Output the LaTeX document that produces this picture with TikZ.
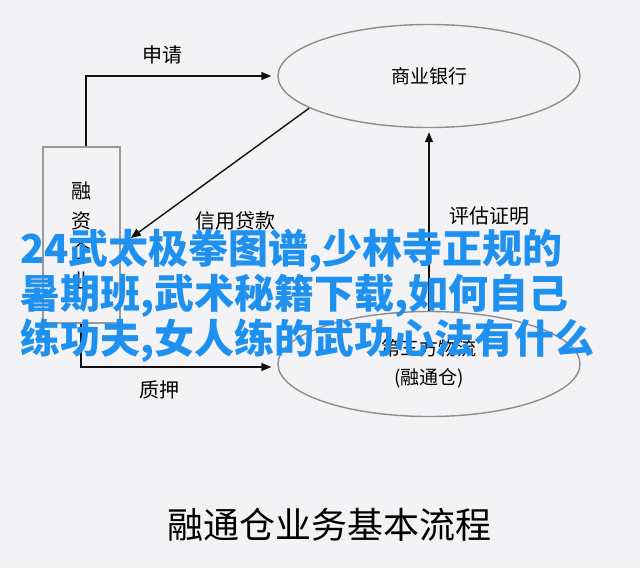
\documentclass[tikz,border=0pt]{standalone}
\usepackage{fontspec}
\newfontfamily\cjk{Noto Sans CJK SC}
\usetikzlibrary{shapes.geometric, arrows.meta, positioning}
\definecolor{bgColor}{HTML}{F3F2F5}
\definecolor{boxColor}{HTML}{9A9A9A}
\definecolor{ovalColor}{HTML}{8E8E8E}
\definecolor{lineColor}{HTML}{111111}
\definecolor{adColor}{HTML}{1E90F0}

\begin{document}
\begin{tikzpicture}[
    x=1pt, y=-1pt,
    % Box Styles
    firmBox/.style={
        draw=boxColor,
        line width=1.6pt,
        minimum width=77pt,
        minimum height=176pt,
        inner sep=0pt,
        align=center,
        font=\cjk\fontsize{20}{30}\selectfont
    },
    ovalBox/.style={
        ellipse,
        draw=ovalColor,
        line width=1.4pt,
        minimum width=302pt,
        minimum height=103pt,
        inner sep=0pt,
        align=center,
        font=\cjk\fontsize{19}{29}\selectfont
    },
    % Line Styles
    connector/.style={
        ->,
        line width=1.4pt,
        color=lineColor,
        >={Triangle[length=10pt,width=8pt]}
    },
    % Text Styles
    edgeLabel/.style={
        font=\cjk\fontsize{20}{24}\selectfont,
        text=black,
        inner sep=0pt
    },
    titleText/.style={
        font=\cjk\fontsize{36}{40}\selectfont
    },
    adText/.style={
        font=\cjk\bfseries\fontsize{40}{45}\selectfont,
        text=adColor,
        align=left,
        anchor=north west,
        inner sep=0pt
    }
]

    % --- CANVAS ---
    \fill[bgColor] (0,0) rectangle (640,568);
    \useasboundingbox (0,0) rectangle (640,568);

    % --- PARTIES ---
    \node[firmBox] (firm) at (81.5,235) {融\\资\\企\\业};
    \node[ovalBox] (bank) at (429,76) {商业银行};
    \node[ovalBox, minimum height=105pt] (logistics) at (429,364) {第三方物流\\(融通仓)};

    % --- CAPTION ---
    \node[titleText] (caption) at (329,525) {融通仓业务基本流程};

    % --- CONNECTIONS ---
    \draw[connector, shorten >=6pt] ([xshift=4.5pt]firm.north) |- node[edgeLabel, pos=0.7, above=11pt] {申请} (bank.west);
    \draw[connector] (bank.195) -- node[edgeLabel, pos=0.75, xshift=60pt, yshift=-15pt] {信用贷款} ([xshift=10pt,yshift=-3pt]firm.east);
    \draw[connector, shorten >=4pt] (logistics.north) -- node[edgeLabel, pos=0.52, right=20pt] {评估证明} (bank.south);
    \draw[connector, shorten >=6pt] ([xshift=-0.5pt]firm.south) |- node[edgeLabel, pos=0.7, below=13pt] {质押} ([yshift=-3pt]logistics.west);

    % --- OVERLAY ---
    \node[adText] (banner) at (20,229) {24武太极拳图谱,少林寺正规的\\暑期班,武术秘籍下载,如何自己\\练功夫,女人练的武功心法有什么};

\end{tikzpicture}
\end{document}
